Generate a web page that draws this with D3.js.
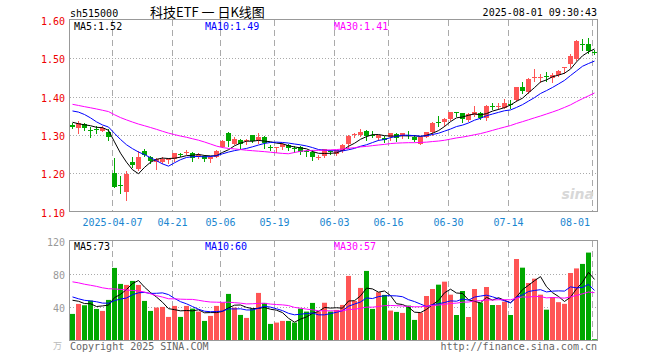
<!DOCTYPE html>
<html><head><meta charset="utf-8">
<script src="https://cdn.jsdelivr.net/npm/d3@7"></script>
<style>body{margin:0;background:#fff}svg{display:block}</style>
</head><body>
<svg id="chart" width="660" height="360"></svg>
<script>
// ---------- DATA ----------
const dates = ["03-26","03-27","03-28","03-31","04-01","04-02","04-03",
"04-07","04-08","04-09","04-10","04-11","04-14","04-15","04-16","04-17","04-18",
"04-21","04-22","04-23","04-24","04-25","04-28","04-29","04-30",
"05-06","05-07","05-08","05-09","05-12","05-13","05-14","05-15","05-16",
"05-19","05-20","05-21","05-22","05-23","05-26","05-27","05-28","05-29","05-30",
"06-03","06-04","06-05","06-06","06-09","06-10","06-11","06-12","06-13",
"06-16","06-17","06-18","06-19","06-20","06-23","06-24","06-25","06-26","06-27",
"06-30","07-01","07-02","07-03","07-04","07-07","07-08","07-09","07-10","07-11",
"07-14","07-15","07-16","07-17","07-18","07-21","07-22","07-23","07-24","07-25",
"07-28","07-29","07-30","07-31","08-01"];
const openP = [1.327,1.3165,1.3278,1.3135,1.3165,1.312,1.3087,1.2017,1.168,1.150,
1.228,1.212,1.258,1.2435,1.228,1.228,1.235,1.2365,1.2505,1.2545,
1.254,1.246,1.245,1.236,1.2435,1.2696,1.304,1.2765,1.287,1.2845,
1.300,1.2852,1.2957,1.2675,1.2665,1.2695,1.2748,1.2657,1.2678,1.2591,
1.2548,1.243,1.2452,1.2570,1.2495,1.259,1.2756,1.3009,1.3009,1.3096,
1.300,1.2913,1.2913,1.294,1.3035,1.2957,1.301,1.2957,1.2783,1.2957,
1.3087,1.3325,1.333,1.3418,1.3595,1.3566,1.3392,1.3522,1.3574,1.3435,
1.375,1.3748,1.3722,1.380,1.3914,1.4253,1.4114,1.452,1.4518,1.4525,
1.448,1.4566,1.4741,1.4845,1.4984,1.5371,1.5367,1.516];
const highP = [1.332,1.3365,1.330,1.3217,1.3235,1.322,1.315,1.239,1.193,1.207,
1.243,1.258,1.263,1.245,1.239,1.242,1.240,1.254,1.254,1.261,
1.2557,1.252,1.247,1.245,1.261,1.287,1.3087,1.294,1.2887,1.2896,
1.301,1.306,1.297,1.274,1.2695,1.278,1.2765,1.2713,1.2713,1.261,
1.261,1.248,1.2643,1.261,1.261,1.2756,1.299,1.3043,1.3148,1.313,
1.310,1.3009,1.2974,1.306,1.306,1.306,1.3104,1.299,1.2957,1.3087,
1.3348,1.3496,1.3435,1.361,1.361,1.3583,1.3566,1.3766,1.3592,1.3775,
1.3827,1.3827,1.393,1.3905,1.4262,1.4392,1.448,1.4723,1.4584,1.4636,
1.4619,1.4697,1.4775,1.5106,1.5472,1.5507,1.5524,1.522];
const lowP = [1.318,1.306,1.313,1.294,1.306,1.310,1.287,1.163,1.148,1.130,
1.217,1.209,1.246,1.226,1.211,1.226,1.227,1.233,1.246,1.250,
1.233,1.239,1.233,1.228,1.242,1.268,1.271,1.275,1.267,1.2765,
1.281,1.280,1.267,1.261,1.2565,1.2626,1.261,1.2565,1.2504,1.245,
1.2348,1.238,1.2435,1.2504,1.2478,1.2565,1.267,1.294,1.2974,1.287,
1.294,1.287,1.2817,1.287,1.285,1.292,1.2913,1.285,1.2757,1.294,
1.300,1.3244,1.3244,1.339,1.3505,1.3348,1.3365,1.3496,1.3418,1.3392,
1.3679,1.3679,1.3705,1.371,1.3896,1.4088,1.4088,1.4418,1.4392,1.441,
1.4392,1.4549,1.4627,1.4784,1.4958,1.5219,1.5132,1.5115];
const closeP = [1.323,1.3304,1.3165,1.313,1.316,1.319,1.2957,1.165,1.166,1.198,
1.221,1.243,1.248,1.233,1.2365,1.237,1.237,1.252,1.247,1.2565,
1.2417,1.248,1.238,1.2417,1.259,1.285,1.2826,1.2896,1.2757,1.2855,
1.284,1.294,1.280,1.267,1.2675,1.2765,1.267,1.2652,1.254,1.2557,
1.2417,1.2435,1.2626,1.2565,1.261,1.274,1.2974,1.3017,1.3087,1.2957,
1.2996,1.2991,1.287,1.3043,1.294,1.3043,1.2974,1.2887,1.2957,1.3087,
1.331,1.332,1.3418,1.3592,1.359,1.3418,1.354,1.361,1.3453,1.3757,
1.3748,1.3757,1.3844,1.3797,1.4245,1.4149,1.4462,1.4523,1.4523,1.452,
1.4566,1.467,1.4775,1.506,1.5454,1.5367,1.518,1.5158];
const volume = [31.9,43.9,42.3,47.9,37.9,35.5,48.7,87.1,67.9,66.7,
71.5,66.7,47.5,35.5,39.5,40.3,28.3,41.5,28.3,41.5,
38.3,34.7,23.5,29.5,41.5,45.5,55.9,39.5,30.7,27.1,
38.3,57.1,45.1,19.9,21.5,23.5,23.5,21.5,38.3,34.7,
45.1,34.7,45.3,34.7,36.7,42.7,77.5,47.5,63.1,83.5,
37.9,57.9,54.7,35.9,34.3,33.1,41.9,24.7,33.4,53.4,
61.8,67.0,70.6,55.0,30.6,59.4,28.2,61.8,45.4,64.2,
42.6,42.6,46.6,30.6,97.8,87.4,69.0,74.2,55,37,
52,46,44,81,86.5,91.9,105.5,1.5];
// estimated earlier sessions (off-screen), needed for the moving averages at the left edge
const priorCloses = [1.42,1.41,1.40,1.41,1.42,1.40,1.41,
1.39,1.38,1.39,1.40,1.38,1.37,1.38,1.39,1.38,
1.37,1.36,1.35,1.36,1.36,
1.38,1.40,1.42,1.40,
1.35,1.33,1.325,1.337];
const priorVolumes = [80,92,85,78,88,82,
95,84,90,86,82,90,
98,105,92,89,
45,40,48,40,
66,61,
55,48,51.4,
50,56,49,54.6];
const tickDates = ["04-07","04-21","05-06","05-19","06-03","06-16","06-30","07-14","08-01"];
const tickLabels = ["2025-04-07","04-21","05-06","05-19","06-03","06-16","06-30","07-14","08-01"];
const priceTicks = [1.10,1.20,1.30,1.40,1.50,1.60];
const volTicks = [40,80,120];
const maPeriods = [5,10,30];
const maColors = ["#000000","#0000ff","#ff00ff"];

// ---------- SETUP ----------
const svg = d3.select("#chart");
const mono = "'DejaVu Sans Mono', monospace";
const UP = "#ff5555", DOWN = "#00a800", GRID = "#aaaaaa", FRAME = "#999999";
const n = dates.length;
const idx = d3.range(n);

const x = d3.scaleBand().domain(idx).range([70, 598]).padding(0);
const y = d3.scaleLinear().domain([1.10, 1.60]).range([211.5, 20]);
const yv = d3.scaleLinear().domain([0, 120]).range([340.5, 240.5]);

function movingAvg(all, prior, p) {
  const full = prior.concat(all);
  return all.map((_, i) => d3.mean(full.slice(i + prior.length - p + 1, i + prior.length + 1)));
}
const priceMA = maPeriods.map(p => movingAvg(closeP, priorCloses, p));
const volMA = maPeriods.map(p => movingAvg(volume, priorVolumes, p));
const tickIdx = tickDates.map(d => dates.indexOf(d));
const isUp = i => closeP[i] >= openP[i];

// ---------- GRIDS ----------
function grids(top, bottom, hTicks, ys) {
  const g = svg.append("g");
  g.selectAll("line.h").data(hTicks).join("line")
    .attr("x1", 70).attr("x2", 598)
    .attr("y1", d => Math.round(ys(d)) + 0.5).attr("y2", d => Math.round(ys(d)) + 0.5)
    .attr("stroke", GRID).attr("stroke-dasharray", "1,2");
  g.selectAll("line.v").data(tickIdx).join("line")
    .attr("x1", d => x(d) + 0.5).attr("x2", d => x(d) + 0.5)
    .attr("y1", top).attr("y2", bottom)
    .attr("stroke", GRID).attr("stroke-dasharray", "6,4");
}
grids(20, 212, [1.20, 1.30, 1.40, 1.50], y);
grids(241, 340, [40, 80], yv);

// ---------- CANDLES ----------
const cg = svg.append("g");
cg.selectAll("line").data(idx).join("line")
  .attr("x1", i => x(i) + 2.5).attr("x2", i => x(i) + 2.5)
  .attr("y1", i => Math.round(y(highP[i]))).attr("y2", i => Math.round(y(lowP[i])) + 1)
  .attr("stroke", i => isUp(i) ? UP : DOWN).attr("stroke-width", 1);
cg.selectAll("rect").data(idx).join("rect")
  .attr("x", i => x(i)).attr("width", 5)
  .attr("y", i => Math.round(y(Math.max(openP[i], closeP[i]))))
  .attr("height", i => Math.max(1, Math.round(Math.abs(y(openP[i]) - y(closeP[i])))))
  .attr("fill", i => isUp(i) ? UP : DOWN);

// ---------- VOLUME BARS ----------
svg.append("g").selectAll("rect").data(idx).join("rect")
  .attr("x", i => x(i)).attr("width", 5)
  .attr("y", i => yv(volume[i])).attr("height", i => yv(0) - yv(volume[i]))
  .attr("fill", i => isUp(i) ? UP : DOWN);

// ---------- MA LINES ----------
maPeriods.forEach((p, k) => {
  svg.append("path").datum(idx)
    .attr("d", d3.line().x(i => x(i) + 2.5).y(i => y(priceMA[k][i])))
    .attr("fill", "none").attr("stroke", maColors[k]).attr("stroke-width", 1);
  svg.append("path").datum(idx)
    .attr("d", d3.line().x(i => x(i) + 2.5).y(i => yv(volMA[k][i])))
    .attr("fill", "none").attr("stroke", maColors[k]).attr("stroke-width", 1);
});

// ---------- FRAMES ----------
svg.append("rect").attr("x", 69.5).attr("y", 19.5).attr("width", 528).attr("height", 192)
  .attr("fill", "none").attr("stroke", FRAME);
svg.append("rect").attr("x", 69.5).attr("y", 240.5).attr("width", 528).attr("height", 100)
  .attr("fill", "none").attr("stroke", FRAME);

// ---------- AXES ----------
const ya = svg.append("g").attr("transform", "translate(70,0)")
  .call(d3.axisLeft(y).tickValues(priceTicks).tickFormat(d3.format(".2f")).tickSize(0).tickPadding(5));
ya.select(".domain").remove();
ya.selectAll("text").attr("fill", "#ee0000").attr("font-family", mono).attr("font-size", 10).attr("dy", "0.45em");

const va = svg.append("g").attr("transform", "translate(70,0)")
  .call(d3.axisLeft(yv).tickValues(volTicks).tickSize(0).tickPadding(5));
va.select(".domain").remove();
va.selectAll("text").attr("fill", "#999").attr("font-family", mono).attr("font-size", 10).attr("dy", "0.45em");

const xa = svg.append("g").attr("transform", "translate(-2.5,212)")
  .call(d3.axisBottom(x).tickValues(tickIdx).tickFormat((d, k) => tickLabels[k]).tickSize(0).tickPadding(7));
xa.select(".domain").remove();
xa.selectAll("text").attr("fill", "#1a86d0").attr("font-family", mono).attr("font-size", 10);
xa.selectAll(".tick").filter((d, k) => k === tickIdx.length - 1).select("text")
  .attr("text-anchor", "end").attr("x", 590 - (x(tickIdx[tickIdx.length - 1]) + 0.5));

// ---------- TEXT ----------
function txt(t, xx, yy, col, opts = {}) {
  return svg.append("text").attr("x", xx).attr("y", yy).text(t)
    .attr("fill", col).attr("font-family", opts.family || mono)
    .attr("font-size", opts.size || 10).attr("text-anchor", opts.anchor || "start");
}
txt("sh515000", 70, 17, "#000");
txt("科技ETF 一 日K线图", 150, 17, "#000", {family: "'Noto Sans CJK SC', sans-serif", size: 13});
txt("2025-08-01 09:30:43", 597, 16, "#000", {anchor: "end"});
const hx = [74, 205, 334];
maPeriods.forEach((p, k) => {
  txt("MA" + p + ":" + priceMA[k][n - 1].toFixed(2), hx[k], 30, maColors[k]);
  txt("MA" + p + ":" + Math.round(volMA[k][n - 1]), hx[k], 250, maColors[k]);
});
txt("Copyright 2025 SINA.COM", 70, 350, "#666");
txt("http://finance.sina.com.cn", 597, 350, "#666", {anchor: "end"});
txt("万", 62, 349, "#bbb", {family: "'Noto Sans CJK SC', sans-serif", size: 9, anchor: "end"});
svg.append("text").attr("x", 594).attr("y", 199).text("sina")
  .attr("fill", "#d8d8d8").attr("font-family", "'DejaVu Sans', sans-serif")
  .attr("font-size", 14).attr("font-style", "italic").attr("font-weight", "bold").attr("text-anchor", "end");
</script>
</body></html>
